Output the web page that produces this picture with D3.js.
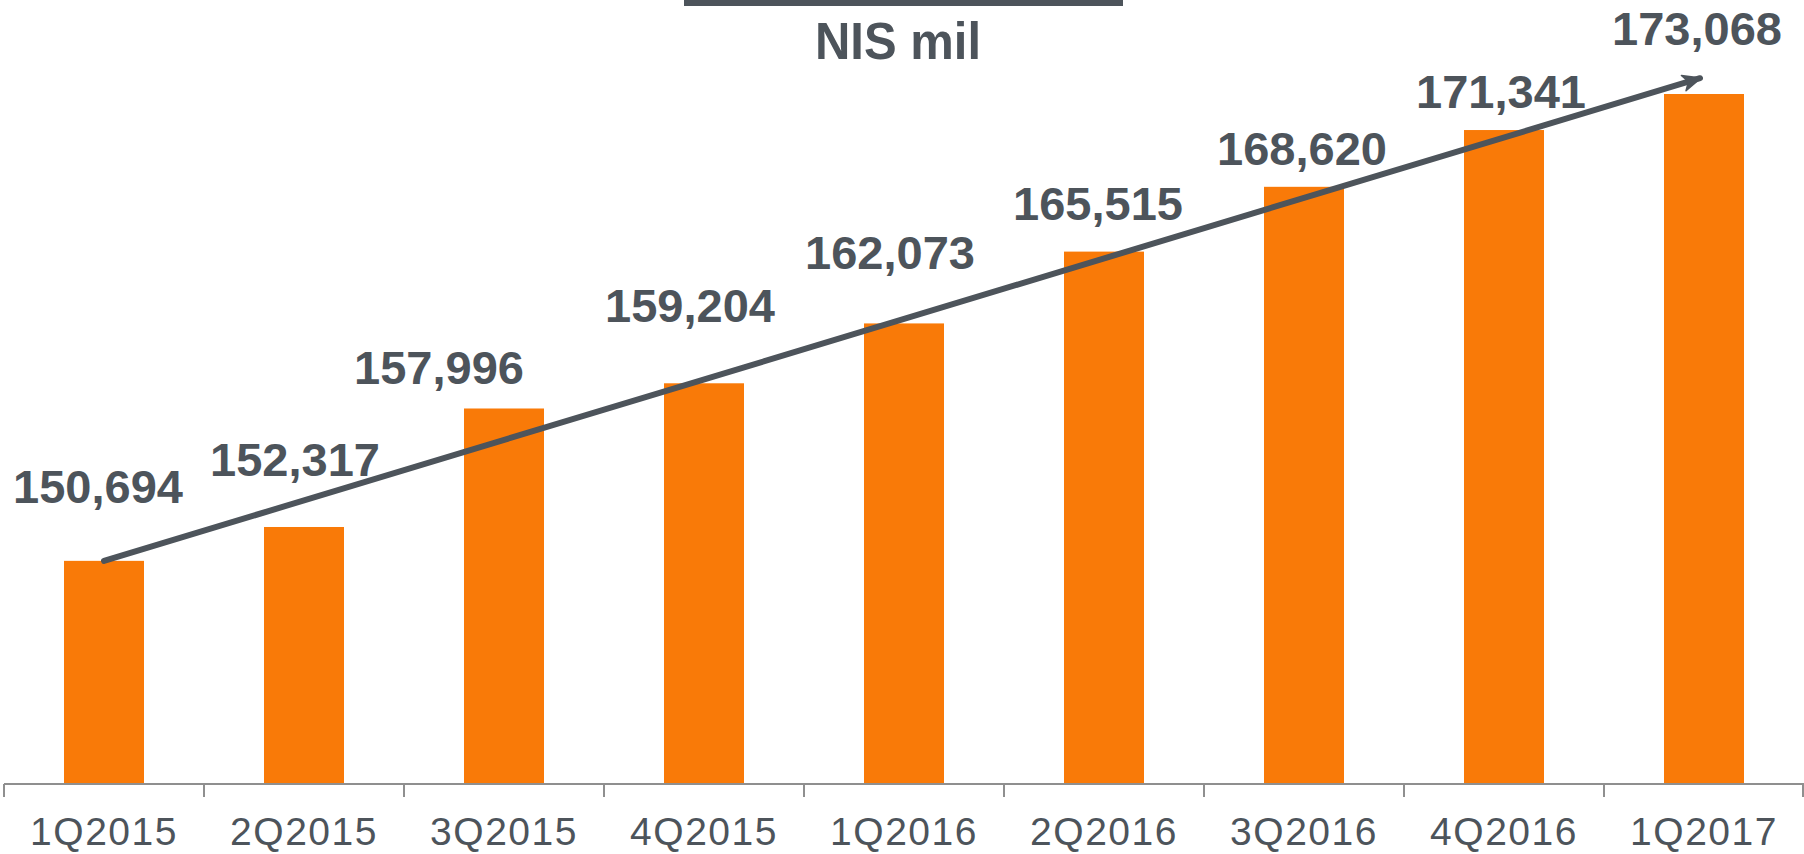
<!DOCTYPE html>
<html lang="en">
<head>
    <meta charset="utf-8">
    <title>NIS mil</title>
    <style>
        body { margin: 0; background: #fff; font-family: "Liberation Sans", Arial, sans-serif; }
    </style>
    <script type="text/javascript" src="https://d3js.org/d3.v7.min.js"></script>
</head>
<body>
    <div class="chart"></div>
    <script type="text/javascript">
        // data
        const quarters = ["1Q2015", "2Q2015", "3Q2015", "4Q2015", "1Q2016", "2Q2016", "3Q2016", "4Q2016", "1Q2017"];
        const totals = [150694, 152317, 157996, 159204, 162073, 165515, 168620, 171341, 173068];
        const unitTitle = "NIS mil";

        // label placement tweaks (px above bar top, px shift from bar centre)
        const labelGap = [58, 51, 24, 61, 54, 32, 22, 22, 49];
        const labelShift = [-6, -9, -65, -14, -14, -6, -2, -3, -7];

        const W = 1804, H = 854;
        const textColor = "#4d545b";
        const barColor = "#f97a08";

        var svg = d3.select('.chart')
            .append('svg')
            .attr('width', W)
            .attr('height', H);

        const xScale = d3.scaleBand()
            .domain(quarters)
            .range([4, 1804])
            .paddingInner(0.6)
            .paddingOuter(0.3);

        const yScale = d3.scaleLinear()
            .domain([140000, 173068])
            .range([784, 94]);

        const cx = d => xScale(d) + xScale.bandwidth() / 2;

        // title + rule
        svg.append('line')
            .attr('x1', 684).attr('x2', 1123)
            .attr('y1', 3).attr('y2', 3)
            .attr('stroke', textColor)
            .attr('stroke-width', 6);

        svg.append('text')
            .attr('x', 898)
            .attr('y', 59)
            .attr('text-anchor', 'middle')
            .attr('font-size', 52)
            .attr('font-weight', 'bold')
            .attr('textLength', 166)
            .attr('lengthAdjust', 'spacingAndGlyphs')
            .attr('fill', textColor)
            .text(unitTitle);

        // bars
        svg.selectAll('rect.bar')
            .data(quarters)
            .enter()
            .append('rect')
            .attr('class', 'bar')
            .attr('x', d => xScale(d))
            .attr('y', (d, i) => yScale(totals[i]))
            .attr('width', xScale.bandwidth())
            .attr('height', (d, i) => yScale(140000) - yScale(totals[i]))
            .attr('fill', barColor);

        // x axis: labels from d3 axis, ticks at band boundaries
        var xAxis = d3.axisBottom(xScale).tickSize(0).tickPadding(0);
        var xAxisDisplay = svg.append('g')
            .attr('class', 'axis x-axis')
            .attr('transform', 'translate(0,784)')
            .call(xAxis);
        xAxisDisplay.select('.domain').remove();
        xAxisDisplay.selectAll('text')
            .attr('y', 61)
            .attr('dy', 0)
            .attr('font-size', 39)
            .attr('letter-spacing', 1.5)
            .attr('font-family', '"Liberation Sans", Arial, sans-serif')
            .attr('fill', textColor);

        xAxisDisplay.append('line')
            .attr('x1', 4).attr('x2', W)
            .attr('y1', 0).attr('y2', 0)
            .attr('stroke', '#8f8f8f')
            .attr('stroke-width', 2);

        var edges = quarters.map(d => cx(d) - xScale.step() / 2);
        edges.push(cx(quarters[quarters.length - 1]) + xScale.step() / 2 - 1);
        xAxisDisplay.selectAll('line.edge')
            .data(edges)
            .enter()
            .append('line')
            .attr('class', 'edge')
            .attr('x1', d => d).attr('x2', d => d)
            .attr('y1', 0).attr('y2', 13)
            .attr('stroke', '#8f8f8f')
            .attr('stroke-width', 2);

        // trend arrow
        svg.append('defs').append('marker')
            .attr('id', 'head')
            .attr('markerUnits', 'userSpaceOnUse')
            .attr('viewBox', '0 0 20 18')
            .attr('refX', 18)
            .attr('refY', 9)
            .attr('markerWidth', 20)
            .attr('markerHeight', 18)
            .attr('orient', 'auto')
            .append('path')
            .attr('d', 'M1,1 L19,9 L1,17 L6,9 Z')
            .attr('fill', textColor)
            .attr('stroke', textColor)
            .attr('stroke-width', 1.5)
            .attr('stroke-linejoin', 'round');

        const first = quarters[0], last = quarters[quarters.length - 1];
        svg.append('line')
            .attr('x1', cx(first))
            .attr('y1', yScale(totals[0]))
            .attr('x2', cx(last) - 4)
            .attr('y2', yScale(totals[totals.length - 1]) - 17 + 1.2)
            .attr('stroke', textColor)
            .attr('stroke-width', 6)
            .attr('stroke-linecap', 'round')
            .attr('marker-end', 'url(#head)');

        // value labels
        svg.selectAll('text.value')
            .data(quarters)
            .enter()
            .append('text')
            .attr('class', 'value')
            .attr('x', (d, i) => cx(d) + labelShift[i])
            .attr('y', (d, i) => yScale(totals[i]) - labelGap[i])
            .attr('text-anchor', 'middle')
            .attr('font-size', 47)
            .attr('font-weight', 'bold')
            .attr('fill', textColor)
            .text((d, i) => d3.format(',')(totals[i]));
    </script>
</body>
</html>
